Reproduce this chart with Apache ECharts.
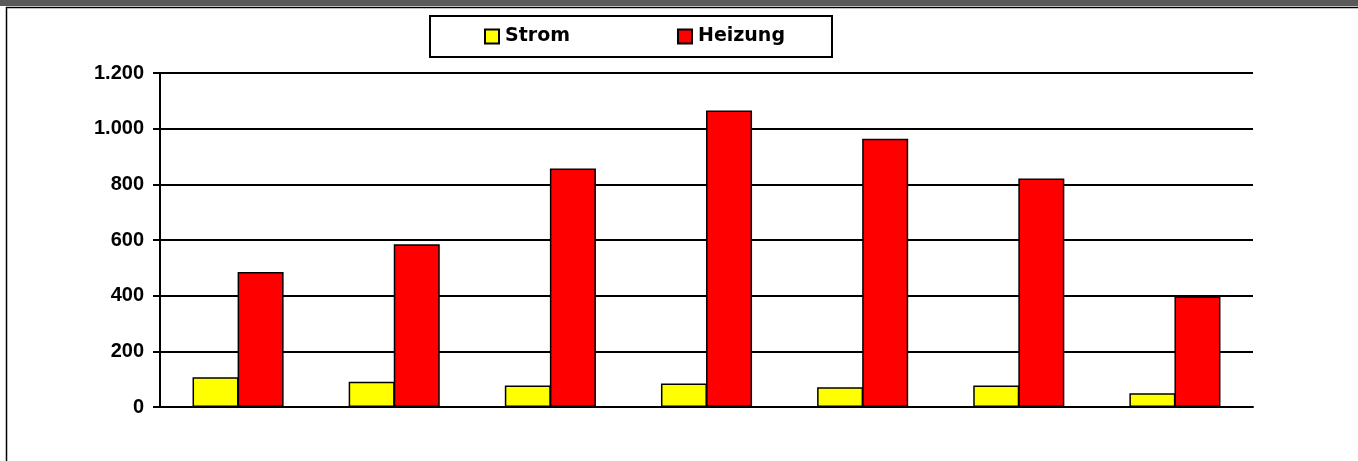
<!DOCTYPE html>
<html>
<head>
<meta charset="utf-8">
<script src="https://cdn.jsdelivr.net/npm/echarts@6/dist/echarts.min.js"></script>
<style>
html,body{margin:0;padding:0;background:#fff;}
#c{width:1358px;height:461px;}
</style>
</head>
<body>
<div id="c"></div>
<script>
const categories = ['1', '2', '3', '4', '5', '6', '7'];
const strom = [107, 91, 77, 84, 71, 77, 49];
const heizung = [485, 585, 857, 1065, 964, 821, 398];
const seriesNames = ['Strom', 'Heizung'];
const yTicks = [0, 200, 400, 600, 800, 1000, 1200];

const font = 'Arial, "Liberation Sans", sans-serif';
const chart = echarts.init(document.getElementById('c'), null, {renderer: 'canvas'});

function fmt(v) {
  return String(v).replace(/\B(?=(\d{3})+(?!\d))/g, '.');
}

chart.setOption({
  animation: false,
  backgroundColor: '#fff',
  graphic: [
    {type: 'rect', shape: {x: 0, y: 0, width: 1358, height: 6}, style: {fill: '#595959'}, z: 10},
    {type: 'rect', shape: {x: 6.5, y: 7.5, width: 1400, height: 500}, style: {fill: 'none', stroke: '#000', lineWidth: 1.5}, z: 10}
  ],
  legend: {
    left: 430,
    top: 16,
    padding: [11, 47, 11, 54],
    itemGap: 107,
    itemWidth: 14,
    itemHeight: 14,
    icon: 'rect',
    borderColor: '#000',
    borderWidth: 2,
    backgroundColor: '#fff',
    textStyle: {fontFamily: '"DejaVu Sans", sans-serif', fontWeight: 'bold', fontSize: 19, color: '#000', padding: [0, 0, 0, 1]},
    data: seriesNames
  },
  grid: {left: 160, right: 105, top: 73, bottom: 54, containLabel: false},
  xAxis: {
    type: 'category',
    data: categories,
    axisLine: {show: true, lineStyle: {color: '#000', width: 2}},
    axisTick: {show: false},
    axisLabel: {show: false},
    splitLine: {show: false}
  },
  yAxis: {
    type: 'value',
    min: 0,
    max: 1200,
    interval: 200,
    axisLine: {show: true, lineStyle: {color: '#000', width: 2}},
    axisTick: {show: true, length: 7, lineStyle: {color: '#000', width: 2}},
    axisLabel: {
      margin: 16,
      fontFamily: font,
      fontWeight: 'bold',
      fontSize: 20,
      color: '#000',
      formatter: function (v) { return yTicks.indexOf(v) >= 0 ? fmt(v) : ''; }
    },
    splitLine: {show: true, lineStyle: {color: '#000', width: 2}}
  },
  series: [
    {
      name: seriesNames[0],
      type: 'bar',
      data: strom,
      barWidth: 46,
      barGap: '-2%',
      itemStyle: {color: '#ffff00', borderColor: '#000', borderWidth: 1.5}
    },
    {
      name: seriesNames[1],
      type: 'bar',
      data: heizung,
      barWidth: 46,
      barGap: '-2%',
      itemStyle: {color: '#ff0000', borderColor: '#000', borderWidth: 1.5}
    }
  ]
});
</script>
</body>
</html>
